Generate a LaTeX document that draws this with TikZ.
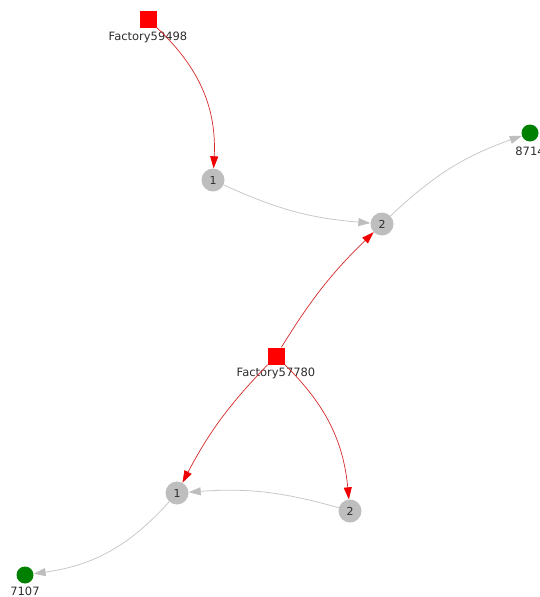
\documentclass[tikz,border=0pt]{standalone}
\usepackage{fontspec}
\setmainfont{DejaVu Sans}
\usetikzlibrary{arrows.meta}
\definecolor{nodegray}{RGB}{190,190,190}
\definecolor{edgegray}{RGB}{200,200,200}
\definecolor{edgered}{RGB}{215,40,40}
\definecolor{tipred}{RGB}{240,0,0}
\definecolor{sinkgreen}{RGB}{0,128,0}
\definecolor{txt}{RGB}{45,45,45}
\tikzset{
  factory/.style={rectangle,fill=red,minimum size=17pt,inner sep=0pt},
  station/.style={circle,fill=nodegray,minimum size=23pt,inner sep=0pt,font=\fontsize{11}{11}\selectfont,text=txt},
  sink/.style={circle,fill=sinkgreen,minimum size=17pt,inner sep=0pt},
  lbl/.style={font=\fontsize{11.5}{11.5}\selectfont,text=txt,inner sep=0pt},
  redflow/.style={draw=edgered,line width=0.7pt,-{Triangle[length=12pt,width=8pt,fill=tipred,color=tipred]}},
  grayflow/.style={draw=edgegray,line width=0.8pt,-{Triangle[length=12pt,width=8pt,fill=nodegray,color=nodegray]}}
}
\begin{document}
\begin{tikzpicture}[x=1pt,y=1pt]
\useasboundingbox (0,0) rectangle (540,-597);
\node[factory] (F1) at (148,-19.5) {};
\node[lbl] (F1l) at (148,-37) {Factory59498};
\node[factory] (F2) at (276,-356) {};
\node[lbl] (F2l) at (276,-373) {Factory57780};
\node[station] (A1) at (213,-180) {1};
\node[station] (A2) at (382,-224) {2};
\node[station] (B1) at (177,-493) {1};
\node[station] (B2) at (350,-511) {2};
\node[sink] (G1) at (530,-133) {};
\node[lbl] (G1l) at (530,-151) {8714};
\node[sink] (G2) at (25,-575) {};
\node[lbl] (G2l) at (25,-591) {7107};
\draw[redflow] (F1) to[bend left=25] (A1);
\draw[grayflow] (A1) to[bend right=10] (A2);
\draw[grayflow] (A2) to[bend left=12] (G1);
\draw[redflow] (F2) to[bend left=7] (A2);
\draw[redflow] (F2) to[bend right=8] (B1);
\draw[redflow] (F2) to[bend left=20] (B2);
\draw[grayflow] (B2) to[bend right=10] (B1);
\draw[grayflow] (B1) to[bend left=20] (G2);
\end{tikzpicture}
\end{document}
